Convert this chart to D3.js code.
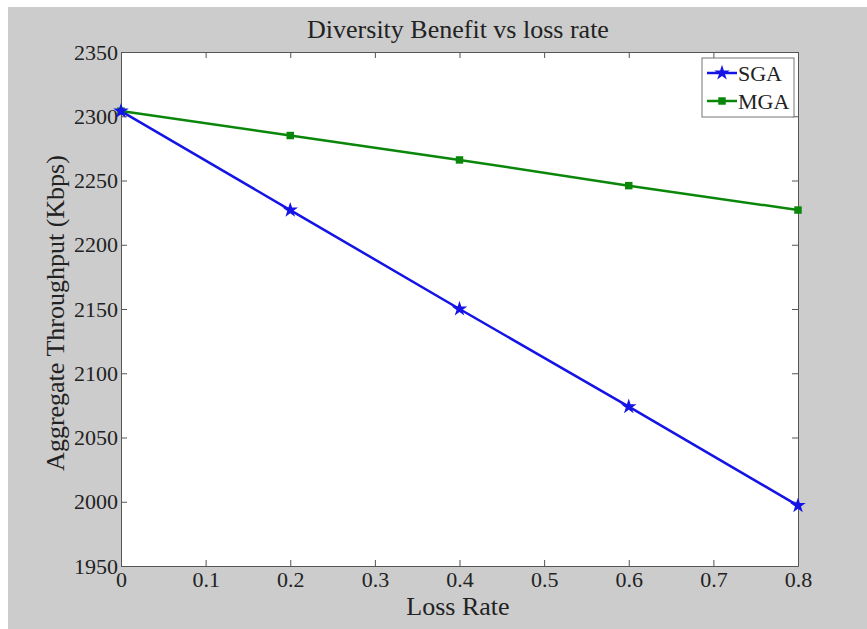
<!DOCTYPE html>
<html>
<head>
<meta charset="utf-8">
<script src="https://cdn.jsdelivr.net/npm/d3@7"></script>
<style>
  html, body { margin: 0; padding: 0; background: #fff; }
  svg { display: block; }
  text { font-family: "Liberation Serif", "Times New Roman", serif; fill: #222; }
</style>
</head>
<body>
<div id="chart"></div>
<script>
  const lossRates = [0, 0.2, 0.4, 0.6, 0.8];
  const sgaValues = [2304, 2227, 2150, 2074, 1997];
  const mgaValues = [2304, 2285, 2266, 2246, 2227];
  const xTicks = [0, 0.1, 0.2, 0.3, 0.4, 0.5, 0.6, 0.7, 0.8];
  const yTicks = [1950, 2000, 2050, 2100, 2150, 2200, 2250, 2300, 2350];

  const W = 867, H = 629;
  const plot = {left: 121, right: 798, top: 52, bottom: 566};
  const serif = '"Liberation Serif", "Times New Roman", serif';

  const svg = d3.select('#chart').append('svg')
    .attr('width', W)
    .attr('height', H);

  // grey figure background with a thin white strip top/left
  svg.append('rect').attr('x', 8).attr('y', 7).attr('width', W - 8).attr('height', H - 7).attr('fill', '#cccccc');

  const x = d3.scaleLinear().domain([0, 0.8]).range([plot.left, plot.right]);
  const y = d3.scaleLinear().domain([1950, 2350]).range([plot.bottom, plot.top]);

  svg.append('rect')
    .attr('x', plot.left).attr('y', plot.top)
    .attr('width', plot.right - plot.left).attr('height', plot.bottom - plot.top)
    .attr('fill', '#fff');

  const fmtX = d => d === 0 ? '0' : d3.format('.1f')(d);

  // axes, ticks inward like matlab
  const axisStyle = g => {
    g.attr('font-family', serif).attr('font-size', 22);
    g.select('.domain').attr('stroke', '#555');
    g.selectAll('.tick line').attr('stroke', '#555');
    g.selectAll('.tick text')
      .style('font-family', serif)
      .style('font-size', '22px')
      .attr('fill', '#222');
  };

  svg.append('g')
    .attr('transform', `translate(0,${plot.bottom})`)
    .call(d3.axisBottom(x).tickValues(xTicks).tickFormat(fmtX).tickSizeInner(-6).tickSizeOuter(0).tickPadding(5))
    .call(axisStyle);

  svg.append('g')
    .attr('transform', `translate(0,${plot.top})`)
    .call(d3.axisTop(x).tickValues(xTicks).tickFormat('').tickSizeInner(-6).tickSizeOuter(0))
    .call(axisStyle);

  svg.append('g')
    .attr('transform', `translate(${plot.left},0)`)
    .call(d3.axisLeft(y).tickValues(yTicks).tickFormat(d3.format('d')).tickSizeInner(-6).tickSizeOuter(0).tickPadding(3))
    .call(axisStyle);

  svg.append('g')
    .attr('transform', `translate(${plot.right},0)`)
    .call(d3.axisRight(y).tickValues(yTicks).tickFormat('').tickSizeInner(-6).tickSizeOuter(0))
    .call(axisStyle);

  // lines
  const line = d3.line()
    .x((d, i) => x(lossRates[i]))
    .y(d => y(d));

  const star = d3.symbol().type(d3.symbolStar).size(75);
  const square = d3.symbol().type(d3.symbolSquare).size(56);

  svg.append('path')
    .datum(mgaValues)
    .attr('d', line)
    .attr('fill', 'none')
    .attr('stroke', '#0a870a')
    .attr('stroke-width', 2.5);

  svg.append('path')
    .datum(sgaValues)
    .attr('d', line)
    .attr('fill', 'none')
    .attr('stroke', '#1414e6')
    .attr('stroke-width', 2.5);

  svg.selectAll('.mga-pt')
    .data(mgaValues)
    .enter()
    .append('path')
      .attr('class', 'mga-pt')
      .attr('d', square)
      .attr('transform', (d, i) => `translate(${x(lossRates[i])},${y(d)})`)
      .attr('fill', '#0a870a');

  svg.selectAll('.sga-pt')
    .data(sgaValues)
    .enter()
    .append('path')
      .attr('class', 'sga-pt')
      .attr('d', star)
      .attr('transform', (d, i) => `translate(${x(lossRates[i])},${y(d)})`)
      .attr('fill', '#1414e6');

  // legend
  const legend = svg.append('g').attr('transform', 'translate(702,58)');
  legend.append('rect')
    .attr('width', 92).attr('height', 59)
    .attr('fill', '#fff').attr('stroke', '#777');

  const entries = [
    {name: 'SGA', color: '#1414e6', sym: star},
    {name: 'MGA', color: '#0a870a', sym: square}
  ];
  entries.forEach((e, i) => {
    const cy = 15 + i * 28;
    legend.append('line')
      .attr('x1', 5).attr('x2', 35).attr('y1', cy).attr('y2', cy)
      .attr('stroke', e.color).attr('stroke-width', 2.5);
    legend.append('path')
      .attr('d', e.sym)
      .attr('transform', `translate(20,${cy})`)
      .attr('fill', e.color);
    legend.append('text')
      .attr('x', 36).attr('y', cy + 8)
      .style('font-size', '22px')
      .text(e.name);
  });

  // titles
  svg.append('text')
    .attr('x', 458).attr('y', 38)
    .attr('text-anchor', 'middle')
    .style('font-size', '26px')
    .text('Diversity Benefit vs loss rate');

  svg.append('text')
    .attr('x', 458).attr('y', 615)
    .attr('text-anchor', 'middle')
    .style('font-size', '26px')
    .text('Loss Rate');

  svg.append('text')
    .attr('transform', 'translate(64,313) rotate(-90)')
    .attr('text-anchor', 'middle')
    .style('font-size', '26px')
    .text('Aggregate Throughput (Kbps)');
</script>
</body>
</html>
